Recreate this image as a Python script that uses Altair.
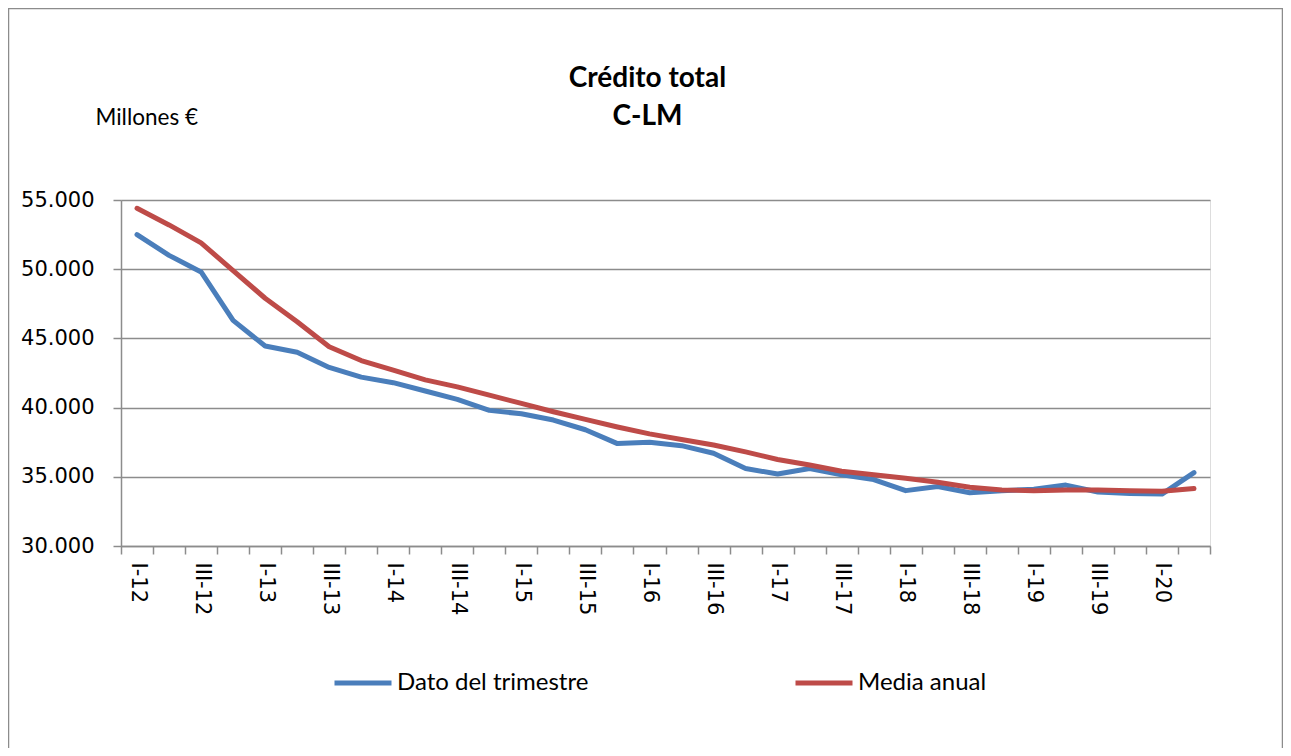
import altair as alt
import pandas as pd

quarters = [f"{q}-{y}" for y in range(12, 21) for q in ["I", "II", "III", "IV"]][:34]
shown_labels = quarters[::2]

dato_trimestre = [52500, 51000, 49800, 46300, 44450, 44000, 42900, 42200, 41800, 41200,
                  40600, 39800, 39550, 39100, 38400, 37400, 37500, 37250, 36700, 35600,
                  35200, 35600, 35150, 34800, 34000, 34300, 33850, 34000, 34100, 34400,
                  33900, 33800, 33750, 35300]
media_anual = [54400, 53200, 51900, 49900, 47900, 46200, 44400, 43400, 42700, 42000,
               41500, 40900, 40300, 39700, 39150, 38600, 38100, 37700, 37300, 36800,
               36250, 35850, 35400, 35150, 34900, 34600, 34250, 34050, 34000, 34050,
               34050, 34000, 33950, 34150]

series_names = ["Dato del trimestre", "Media anual"]
series_colors = ["#4A7EBB", "#BE4B48"]

rows = []
for i, q in enumerate(quarters):
    rows.append({"q": q, "serie": series_names[0], "v": dato_trimestre[i], "o": i})
    rows.append({"q": q, "serie": series_names[1], "v": media_anual[i], "o": i})
df = pd.DataFrame(rows)

GRID = "#8C8C8C"
label_list = "[" + ",".join("'" + s + "'" for s in shown_labels) + "]"

lines = alt.Chart(df).mark_line(strokeWidth=5, strokeJoin="round", strokeCap="round").encode(
    x=alt.X("q:N", sort=quarters,
            scale=alt.Scale(type="band", paddingInner=0, paddingOuter=0),
            axis=alt.Axis(title=None, tickBand="extent", tickSize=8, tickColor=GRID, tickWidth=1.5,
                          domainColor=GRID, domainWidth=1.5, labelAngle=90, labelAlign="left",
                          labelBaseline="middle", labelPadding=8, labelFont="DejaVu Sans",
                          labelFontSize=21, labelColor="#000000", labelOverlap=False,
                          labelExpr="indexof(" + label_list + ", datum.value) >= 0 ? datum.value : ''",
                          grid=False)),
    y=alt.Y("v:Q", scale=alt.Scale(domain=[30000, 55000], nice=False, zero=False),
            axis=alt.Axis(title="Millones €", titleAngle=0, titleAlign="left", titleBaseline="alphabetic",
                          titleX=-26, titleY=-76, titleFont="Lato", titleFontSize=22.5,
                          titleFontWeight="normal", titleColor="#000000",
                          values=[30000, 35000, 40000, 45000, 50000, 55000],
                          labelExpr="replace(format(datum.value, ',.0f'), ',', '.')",
                          labelFont="DejaVu Sans", labelFontSize=21, labelColor="#000000",
                          labelPadding=19, tickSize=8, tickColor=GRID, tickWidth=1.5,
                          domainColor=GRID, domainWidth=1.5,
                          grid=True, gridColor=GRID, gridWidth=1.5)),
    color=alt.Color("serie:N", scale=alt.Scale(domain=series_names, range=series_colors),
                    legend=alt.Legend(title=None, orient="none", legendX=211, legendY=452,
                                      direction="horizontal", symbolType="stroke",
                                      symbolSize=3249, symbolStrokeWidth=5,
                                      labelFont="Lato", labelFontSize=24, labelColor="#000000",
                                      labelLimit=500, labelOffset=3, columnPadding=196)),
    order="o:Q",
)

frame_df = pd.DataFrame({"a": [0]})
left = alt.Chart(frame_df).mark_rule(color=GRID, strokeWidth=1.5).encode(
    x=alt.value(-112.5), y=alt.value(-192), y2=alt.value(548))
top = alt.Chart(frame_df).mark_rule(color=GRID, strokeWidth=1.5).encode(
    x=alt.value(-112.5), x2=alt.value(1161.5), y=alt.value(-191.5))
right = alt.Chart(frame_df).mark_rule(color=GRID, strokeWidth=1.5).encode(
    x=alt.value(1161.5), y=alt.value(-192), y2=alt.value(548))

chart = alt.layer(lines, left, top, right).properties(
    width=1089, height=346,
    autosize=alt.AutoSizeParams(type="none"),
    padding={"left": 113, "top": 192, "right": 73, "bottom": 202},
    title=alt.TitleParams(text=["Crédito total", "C-LM"], font="Lato", fontSize=28,
                          fontWeight="bold", anchor="middle", dx=-18, offset=-124,
                          lineHeight=38, color="#000000"),
).configure_view(stroke=None).configure(background="white")

chart.save("out.html", embed_options={"renderer": "svg", "actions": False})
